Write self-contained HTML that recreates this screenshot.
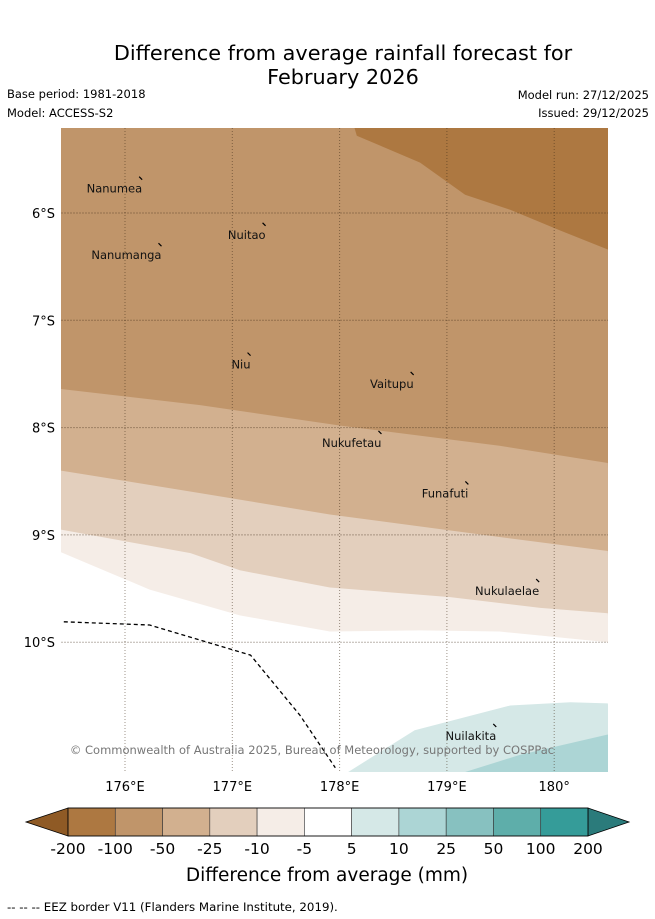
<!DOCTYPE html>
<html><head><meta charset="utf-8"><style>
body{margin:0;background:#fff;width:655px;height:919px;overflow:hidden;font-family:"DejaVu Sans","Liberation Sans",sans-serif}
svg{display:block}
</style></head><body>
<svg id="chart" width="655" height="919" viewBox="0 0 655 919">
<text x="343" y="60" text-anchor="middle" font-size="20.8">Difference from average rainfall forecast for</text>
<text x="343" y="84" text-anchor="middle" font-size="20.8">February 2026</text>
<text x="7" y="98" font-size="11.5">Base period: 1981-2018</text>
<text x="7" y="117" font-size="11.5">Model: ACCESS-S2</text>
<text x="649" y="99" font-size="11.5" text-anchor="end">Model run: 27/12/2025</text>
<text x="649" y="117" font-size="11.5" text-anchor="end">Issued: 29/12/2025</text>
<defs><clipPath id="mapclip"><rect x="61" y="128" width="547" height="644"/></clipPath></defs>
<g id="map" clip-path="url(#mapclip)"></g>
<g id="overlay"></g>
<g id="cbar"></g>
<text x="327" y="881" text-anchor="middle" font-size="18.5">Difference from average (mm)</text>
<text x="7" y="911" font-size="11.8">--  --  -- EEZ border V11 (Flanders Marine Institute, 2019).</text>
</svg>
<script>
// Axis extents (lon east, lat south)
const lonTicks = [176, 177, 178, 179, 180];
const lonTickLabels = ["176°E", "177°E", "178°E", "179°E", "180°"];
const latTicks = [6, 7, 8, 9, 10];
const latTickLabels = ["6°S", "7°S", "8°S", "9°S", "10°S"];
// contour boundaries: lon arrays and lat arrays
const b200Lon = [178.14, 178.16, 178.75, 179.17, 179.59, 180.05, 180.5];
const b200Lat = [5.21, 5.28, 5.53, 5.83, 5.97, 6.16, 6.34];
const b50Lon = [175.4, 176.7, 178.0, 179.49, 180.5];
const b50Lat = [7.64, 7.79, 7.98, 8.17, 8.33];
const b25Lon = [175.4, 176.7, 177.91, 179.49, 180.5];
const b25Lat = [8.40, 8.61, 8.81, 9.02, 9.15];
const b10Lon = [175.4, 175.95, 176.61, 177.07, 177.91, 179.03, 179.87, 180.5];
const b10Lat = [8.95, 9.05, 9.17, 9.33, 9.49, 9.58, 9.68, 9.73];
const b5Lon = [175.4, 176.23, 177.07, 177.91, 178.75, 179.49, 180.5];
const b5Lat = [9.16, 9.51, 9.75, 9.90, 9.89, 9.90, 10.0];
const p5Lon = [178.08, 178.70, 179.59, 180.15, 180.5];
const p5Lat = [11.21, 10.82, 10.59, 10.56, 10.57];
const p10Lon = [179.17, 179.68, 180.5];
const p10Lat = [11.21, 11.05, 10.86];
const eezLon = [175.43, 176.23, 176.70, 177.17, 177.63, 177.96];
const eezLat = [9.81, 9.84, 9.98, 10.12, 10.68, 11.17];
const islandNames = ["Nanumea","Nuitao","Nanumanga","Niu","Vaitupu","Nukufetau","Funafuti","Nukulaelae","Nuilakita"];
const islandLon = [176.16, 177.31, 176.34, 177.17, 178.69, 178.39, 179.20, 179.86, 179.46];
const islandLat = [5.68, 6.11, 6.30, 7.32, 7.50, 8.05, 8.52, 9.43, 10.78];
const cbLevels = ["-200","-100","-50","-25","-10","-5","5","10","25","50","100","200"];
const cbColors = ["#ad7841","#c0956a","#d2b08f","#e3cfbd","#f5ede7","#ffffff","#d5e8e7","#acd5d5","#87c1c0","#5eaeaa","#359c99"];

const NS='http://www.w3.org/2000/svg';
const X = lon => 125 + (lon-176)*107.3;
const Y = lat => 213 + (lat-6)*107.3;
function mk(tag, attrs, parent){const e=document.createElementNS(NS,tag);for(const k in attrs)e.setAttribute(k,attrs[k]);parent.appendChild(e);return e;}
const map=document.getElementById('map');
const ov=document.getElementById('overlay');
function pts(lons,lats){return lons.map((l,i)=>X(l).toFixed(1)+','+Y(lats[i]).toFixed(1));}
function below(lons,lats,color,name){
  const p=pts(lons,lats); p.push('620,780','50,780');
  const e=mk('polygon',{points:p.join(' '),fill:color},map);
  
  
}
let r=mk('rect',{x:50,y:120,width:570,height:670,fill:'#c0956a'},map);


{const p=pts(b200Lon,b200Lat);p.push('620,260','620,120','350,120');
 const e=mk('polygon',{points:p.join(' '),fill:'#ad7841'},map);
 
 }
below(b50Lon,b50Lat,'#d2b08f','band-minus50-minus25');
below(b25Lon,b25Lat,'#e3cfbd','band-minus25-minus10');
below(b10Lon,b10Lat,'#f5ede7','band-minus10-minus5');
below(b5Lon,b5Lat,'#ffffff','band-near-average');
below(p5Lon,p5Lat,'#d5e8e7','band-5-10');
below(p10Lon,p10Lat,'#acd5d5','band-10-25');
lonTicks.forEach((t,i)=>{
  const l=mk('line',{x1:X(t),x2:X(t),y1:128,y2:772,stroke:'rgba(60,40,20,0.5)','stroke-width':1,'stroke-dasharray':'1,2'},map);
  
  
  const tx=mk('text',{x:X(t),y:791,'text-anchor':'middle','font-size':13},ov);
  tx.textContent=lonTickLabels[i];
  
  
});
latTicks.forEach((t,i)=>{
  const l=mk('line',{x1:61,x2:608,y1:Y(t),y2:Y(t),stroke:'rgba(60,40,20,0.35)','stroke-width':1,'stroke-dasharray':'2,1'},map);
  
  
  const tx=mk('text',{x:55,y:Y(t)+5,'text-anchor':'end','font-size':13},ov);
  tx.textContent=latTickLabels[i];
  
  
});
{const e=mk('polyline',{points:pts(eezLon,eezLat).join(' '),fill:'none',stroke:'#000','stroke-width':1.3,'stroke-dasharray':'4,3'},map);
 
 }
islandNames.forEach((n,i)=>{
  const x=X(islandLon[i]),y=Y(islandLat[i]);
  const m=mk('line',{x1:x-3,y1:y-2,x2:x,y2:y+1,stroke:'#000','stroke-width':1.2},map);
  
  
  const t=mk('text',{x:x,y:y+14,'text-anchor':'end','font-size':11.5,fill:'#111'},map);
  t.textContent=n;
  
  
});
{const t=mk('text',{x:312,y:754,'text-anchor':'middle','font-size':11.5,fill:'#777'},map);
 t.textContent='© Commonwealth of Australia 2025, Bureau of Meteorology, supported by COSPPac';
 
 }
const cb=document.getElementById('cbar');
const cx0=68,cw=520,cy=808,ch=28,seg=cw/cbColors.length;
{const a=mk('polygon',{points:`${cx0},${cy} ${cx0},${cy+ch} 26,${cy+ch/2}`,fill:'#8f5a25',stroke:'#000','stroke-width':0.8},cb);
 
 const b=mk('polygon',{points:`${cx0+cw},${cy} ${cx0+cw},${cy+ch} 629,${cy+ch/2}`,fill:'#2b7b7b',stroke:'#000','stroke-width':0.8},cb);
 }
cbColors.forEach((c,i)=>{
  const s=mk('rect',{x:cx0+i*seg,y:cy,width:seg,height:ch,fill:c,stroke:'#333','stroke-width':0.6},cb);
  
  
});
mk('rect',{x:cx0,y:cy,width:cw,height:ch,fill:'none',stroke:'#000','stroke-width':0.8},cb);
cbLevels.forEach((l,i)=>{
  const t=mk('text',{x:cx0+i*seg,y:854,'text-anchor':'middle','font-size':15.5},cb);
  t.textContent=l;
  
  
});
</script>
</body></html>
